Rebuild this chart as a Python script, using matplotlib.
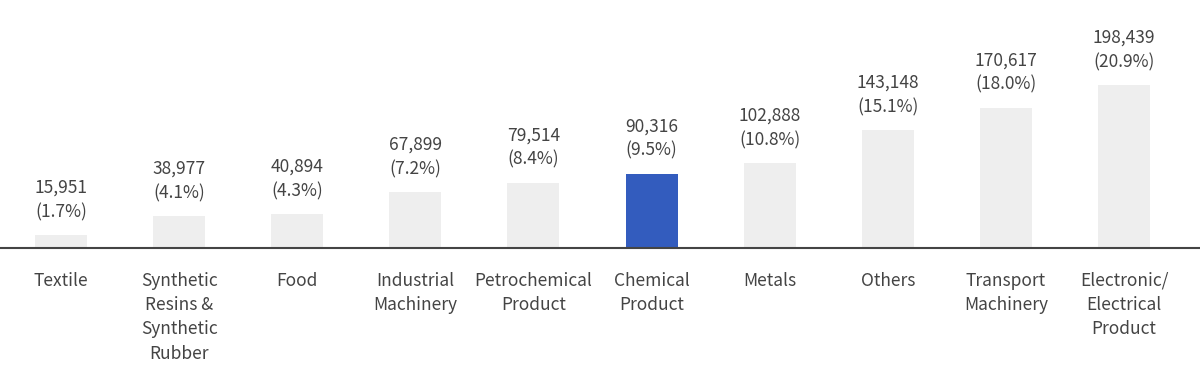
import matplotlib.pyplot as plt
import numpy as np

plt.rcParams['font.family'] = ['Noto Sans CJK KR', 'DejaVu Sans']

categories = ["Textile", "Synthetic\nResins &\nSynthetic\nRubber", "Food",
              "Industrial\nMachinery", "Petrochemical\nProduct", "Chemical\nProduct",
              "Metals", "Others", "Transport\nMachinery", "Electronic/\nElectrical\nProduct"]
values = [15951, 38977, 40894, 67899, 79514, 90316, 102888, 143148, 170617, 198439]
shares = [1.7, 4.1, 4.3, 7.2, 8.4, 9.5, 10.8, 15.1, 18.0, 20.9]
highlight = "Chemical\nProduct"

gray = "#eeeeee"
blue = "#335cbe"
text_color = "#444444"

fig = plt.figure(figsize=(12, 3.84), dpi=100)
ax = fig.add_axes([0, 136 / 384, 1, 248 / 384])

x = np.arange(len(values))
colors = [blue if c == highlight else gray for c in categories]
bars = ax.bar(x, values, width=0.44, color=colors, zorder=2)

for b, v, s in zip(bars, values, shares):
    ax.annotate("{:,}\n({:.1f}%)".format(v, s),
                (b.get_x() + b.get_width() / 2, b.get_height()),
                xytext=(0, 10), textcoords="offset points",
                ha="center", va="bottom", fontsize=12.5, color=text_color,
                linespacing=1.45)

ax.set_xlim(-0.5165, 9.644)
ax.set_ylim(0, 198439 * 248 / 163)
ax.set_xticks(x)
ax.set_xticklabels(categories, fontsize=12.5, color=text_color, linespacing=1.45)
ax.tick_params(axis="x", length=0, pad=17)
ax.set_yticks([])
for side in ["top", "right", "left"]:
    ax.spines[side].set_visible(False)
ax.spines["bottom"].set_color(text_color)
ax.spines["bottom"].set_linewidth(1.5)
ax.spines["bottom"].set_zorder(3)

fig.savefig("out.png", dpi=100)
